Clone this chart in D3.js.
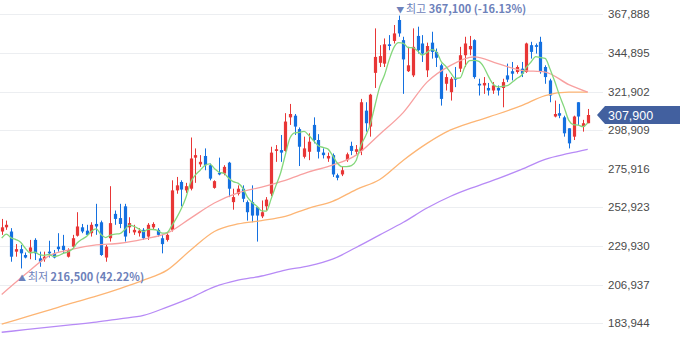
<!DOCTYPE html>
<html><head><meta charset="utf-8">
<script src="https://cdn.jsdelivr.net/npm/d3@7"></script>
<style>html,body{margin:0;padding:0;background:#fff;}svg{display:block}</style>
</head><body><svg id="c" width="680" height="358"></svg>
<script>
// prices in thousands of won
const UNIT = 1000;
const open = [238.5,241,238.5,226.5,228,224.5,226.5,233.5,222.5,222,
226.5,225.5,229.5,230,223.5,229.5,236,241,239,237.5,
243,244,223,234.5,249,246.5,253.5,241,238,237.5,
239.5,235.5,241,239.5,234.5,233.5,239.5,263,268,263,
264,282.5,278.5,283.5,278,264.5,273.5,273,279.5,256,
261,264,256,256,253,247.5,253.5,261,286.5,287,
286.5,306.5,307.5,299.5,283,286,302,293,285.5,282,
284,272,272.5,281,289.5,286,286.5,310.5,301,333,
339,338.5,350,352,364.5,352.5,334,331.5,355,350.5,
334.5,351,345.5,337.5,326.5,321.5,330,335.5,343.5,347,
352.5,326.5,325.5,324,322.5,324,324,331.5,334,333.5,
335.5,333.5,349.5,349.5,351.5,336.5,328.5,307,309,306.5,
300,295,315.5,301,303];
const high = [246,245,240.5,231,230.5,226,233.5,234.5,226.5,226.5,
233,227.5,237.5,236.5,228.5,236.5,250,243,242.5,244,
255,245,230.5,265.5,251,255,255,247,242.5,240.5,
240.5,243.5,244,240.5,236.5,237.5,269,271,269,267.5,
294.5,288,284,288,279,269,282.5,278,280,264,
266,266,257,266,253,257,259,289,290,296,
309,314.5,308.5,300.5,295,297,306.5,296.5,288,285.5,
285,273,277,285.5,292,290,317.5,315.5,320.5,359.5,
349.5,353.5,355.5,361.5,367.1,354.5,348.5,359.5,360.5,355.5,
351,357.5,347.5,338.5,332.5,330.5,336.5,348.5,354.5,355,
353,329.5,330.5,327,327.5,325.5,329.5,338.5,339.5,337.5,
339.5,351,351.5,350.5,354.5,337.5,329.5,316.5,314.5,307.5,
300,307.5,315.5,305,311.5];
const low = [236.5,239.5,220.5,223.5,216.5,222.5,222,221.5,217.5,220.5,
223,222.5,226.5,225.5,223,228.5,235.5,237.5,236,235.5,
236.5,224,220.5,232.5,242.5,240.5,232.5,237.5,236.5,235.5,
233.5,233.5,239.5,235.5,225.5,232.5,238.5,261,253.5,261.5,
263,267.5,277,275,269,264,272,272,259,251.5,
260,256,245,244,232.5,246.5,251,259.5,280,280,
286,302,296,277.5,282,281,291,282,282,280,
271,269,271.5,280,284,284,284,298,295,324,
336.5,336.5,346.5,350.5,354.5,320.5,333.5,330.5,344.5,339.5,
330.5,341.5,336.5,313.5,322.5,316.5,324.5,333.5,336.5,343.5,
329.5,319.5,320.5,319.5,320.5,319.5,312.5,327.5,328.5,332.5,
330.5,333,341.5,344.5,332.5,326.5,315.5,306.5,306,295,
288,293,302,298,303];
const close = [241,242.5,223.5,228,225.5,223,229,225.5,220.5,223.5,
225.5,223,228,227.5,227.5,234.5,241.5,238.5,236.5,242.5,
241.5,224.5,229.5,243.5,246,243,235.5,243.5,239.5,239,
234.5,242.5,243,236.5,231,236.5,263,266,263.5,265.5,
282,284,280,278,270,268.5,272.5,277,264,259,
264,258,250,248,248,250,257.5,285.5,287.5,285.5,
304,308.5,301,289,288,292,293,286,284,283.5,
272.5,270.5,275,284.5,286.5,287.5,315.5,303,320,342.5,
343,350,349,356.5,356.5,341,337.5,348.5,346.5,344.5,
349,345.5,342,317.5,330.5,329.5,329,343.5,350.5,349,
330.5,325.5,327,322.5,325.5,322.5,327.5,329,332.5,336.5,
332.5,350.5,345.5,348.5,333.5,330.5,319.5,308.5,307.5,297,
291,307,307,303,307.9];
// closes before the visible window (for the 5-day average)
const priorCloses = [230,235,233,233.5];

// moving averages at these candle indexes
const maIndex = [0,5,10,15,20,25,30,35,40,45,50,55,60,65,70,75,80,85,90,95,100,105,110,115,120,124];
const ma20 = [201,213,224,228,230.5,231.5,234,237.5,246.5,255.5,261.5,265,269,274,278,284,296.5,309.5,327.5,337.5,342.5,338.5,334.5,333.5,326,321.5];
const ma60 = [183.3,187.5,191.7,196,200,204.5,209.5,215.5,227.5,238.5,243,245,247.5,252.5,256.5,263.5,269.5,281,291,299,304,308.5,313.5,319.5,321.5,321.5];
const ma120 = [178.5,180,181.5,183,184.5,186.5,188.5,193.5,199,205.5,209.5,212,215.5,218,222,229,236.5,244,252.5,259.5,265,270,275.5,281.5,285,287.5];

const yTicks = [183944,206937,229930,252923,275916,298909,321902,344895,367888];
const yTickLabels = ["183,944","206,937","229,930","252,923","275,916","298,909","321,902","344,895","367,888"];

const maxLabel = {idx: 84, pre: "최고 ", val: "367,100 (-16.13%)"};
const minLabel = {idx: 4, pre: "최저 ", val: "216,500 (42.22%)"};
const lastLabel = "307,900";

const n = close.length;
const candles = d3.range(n).map(i => ({i, o: open[i]*UNIT, h: high[i]*UNIT, l: low[i]*UNIT, c: close[i]*UNIT}));

const svg = d3.select("#c");
const x = d3.scaleLinear().domain([0, n-1]).range([1.7, 587.7]);
const y = d3.scaleLinear().domain([yTicks[0], yTicks[yTicks.length-1]]).range([323.1, 14.3]);

// grid
svg.append("g").selectAll("line").data(yTicks).join("line")
  .attr("x1", 0).attr("x2", 603)
  .attr("y1", d => Math.round(y(d)) + 0.5).attr("y2", d => Math.round(y(d)) + 0.5)
  .attr("stroke", "#eceef1").attr("stroke-width", 1);

// y axis labels via d3 axis
const axis = d3.axisRight(y).tickValues(yTicks).tickFormat((d, k) => yTickLabels[k]).tickSize(0).tickPadding(0);
const ag = svg.append("g").attr("transform", "translate(608,0)").call(axis);
ag.select(".domain").remove();
ag.selectAll("text").attr("font-family", "Liberation Sans, Arial, sans-serif").attr("font-size", "11.5px").attr("fill", "#4a4a4a");

const RED = "#e83636", BLUE = "#1470e0";
const cg = svg.append("g");
cg.selectAll("line").data(candles).join("line")
  .attr("x1", d => Math.round(x(d.i)) + 0.5).attr("x2", d => Math.round(x(d.i)) + 0.5)
  .attr("y1", d => y(d.h)).attr("y2", d => y(d.l))
  .attr("stroke", d => d.c >= d.o ? RED : BLUE).attr("stroke-width", 1);
cg.selectAll("rect").data(candles).join("rect")
  .attr("x", d => Math.round(x(d.i)) + 0.5 - 1.6).attr("width", 3.2)
  .attr("y", d => y(Math.max(d.o, d.c)))
  .attr("height", d => Math.max(1, Math.abs(y(d.o) - y(d.c))))
  .attr("fill", d => d.c >= d.o ? RED : BLUE);

// moving averages
const allCloses = priorCloses.concat(close);
const ma5 = d3.range(n).map(i => ({i, v: d3.mean(allCloses.slice(i, i + 5)) * UNIT}));
const mk = arr => maIndex.map((idx, k) => ({i: idx, v: arr[k] * UNIT}));
const line = d3.line().x(d => x(d.i)).y(d => y(d.v)).curve(d3.curveMonotoneX);
const series = [
  {data: mk(ma120), color: "#b78af6"},
  {data: mk(ma60), color: "#fdb574"},
  {data: mk(ma20), color: "#f8a0a0"},
  {data: ma5, color: "#84d77c"}
];
svg.append("g").selectAll("path").data(series).join("path")
  .attr("d", d => line(d.data)).attr("fill", "none")
  .attr("stroke", d => d.color).attr("stroke-width", 1.3);

// high / low annotations
const annColor = "#6d81ba";
function ann(lbl, yy, arrow) {
  const t = svg.append("text").attr("x", x(lbl.idx) - 2.5).attr("y", yy)
    .attr("font-family", "Noto Sans CJK KR, sans-serif").attr("font-size", "11px").attr("fill", annColor);
  t.append("tspan").attr("font-size", "8px").text(arrow + " ");
  t.append("tspan").text(lbl.pre);
  t.append("tspan").attr("font-weight", "bold").text(lbl.val);
}
ann(maxLabel, y(high[maxLabel.idx] * UNIT) - 2.5, "▼");
ann(minLabel, y(low[minLabel.idx] * UNIT) + 13, "▲");

// last price tag
const ly = y(close[n - 1] * UNIT);
svg.append("path")
  .attr("d", `M597,${ly} L605,${ly - 9} L680,${ly - 9} L680,${ly + 9} L605,${ly + 9} Z`)
  .attr("fill", "#42609f");
svg.append("text").attr("x", 608).attr("y", ly).attr("dy", "0.36em")
  .attr("font-family", "Liberation Sans, Arial, sans-serif").attr("font-size", "12.5px")
  .attr("fill", "#fff").text(lastLabel);
</script>
</body></html>
